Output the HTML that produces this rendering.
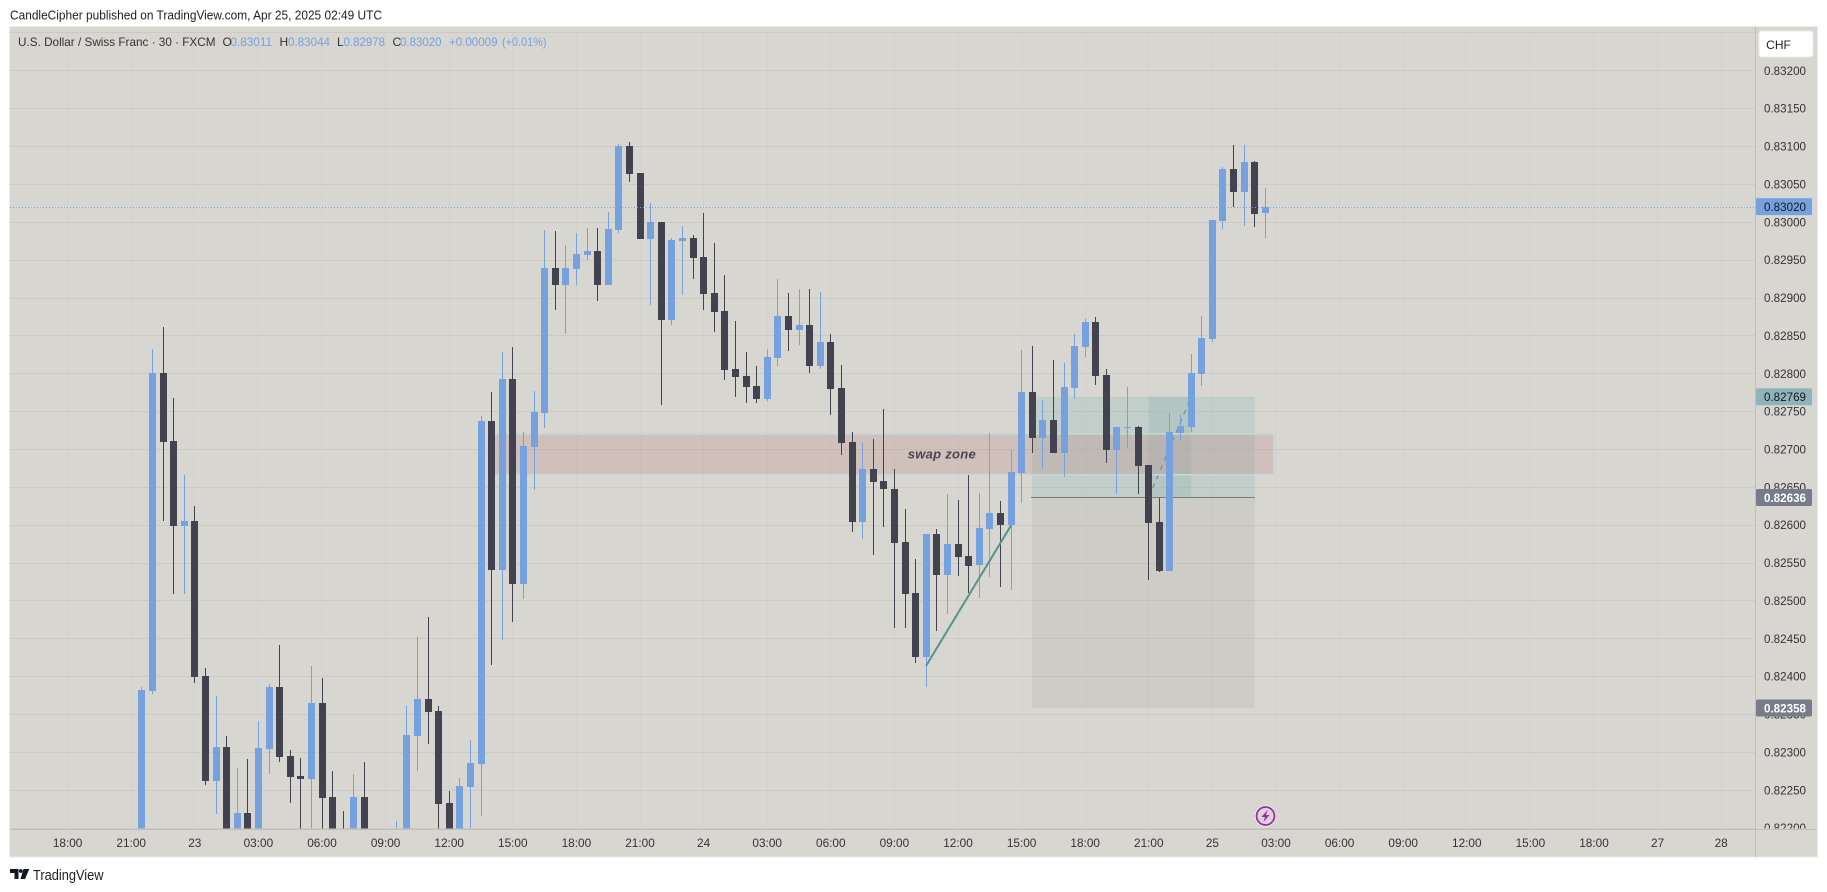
<!DOCTYPE html>
<html lang="en">
<head>
<meta charset="utf-8">
<title>USD/CHF 30m chart</title>
<style>
html,body{margin:0;padding:0;background:#fff;width:1827px;height:892px;overflow:hidden}
svg{display:block;position:absolute;left:0;top:0}
text{font-family:"Liberation Sans",sans-serif}
</style>
</head>
<body>
<svg id="chart" xmlns="http://www.w3.org/2000/svg" width="1827" height="892" viewBox="0 0 1827 892">
  <defs>
    <clipPath id="plot-clip"><rect x="10" y="27" width="1745.5" height="801.5"/></clipPath>
    <clipPath id="price-clip"><rect x="1756" y="27" width="61" height="801.5"/></clipPath>
  </defs>
  <rect x="0" y="0" width="1827" height="892" fill="#ffffff"/>
  <text x="10" y="19.5" font-size="12.5" fill="#222" textLength="372" lengthAdjust="spacingAndGlyphs">CandleCipher published on TradingView.com, Apr 25, 2025 02:49 UTC</text>
  <rect x="9.5" y="26.5" width="1808" height="830.5" fill="#d7d6d0" stroke="#ebebe9" stroke-width="1"/>
  <g id="grid" shape-rendering="crispEdges"></g>
  <g id="drawings" clip-path="url(#plot-clip)"></g>
  <g id="candles" clip-path="url(#plot-clip)" shape-rendering="crispEdges"></g>
  <g id="drawings-top" clip-path="url(#plot-clip)"></g>
  <line x1="10" x2="1817" y1="829.5" y2="829.5" stroke="#bfbeb8" stroke-width="1" shape-rendering="crispEdges"/>
  <line x1="1755.5" x2="1755.5" y1="27" y2="857" stroke="#bfbeb8" stroke-width="1" shape-rendering="crispEdges"/>
  <g id="price-axis" clip-path="url(#price-clip)"></g>
  <g id="time-axis"></g>
  <g id="price-tags"></g>

  <g font-size="12">
    <text x="18" y="46" fill="#333" textLength="197.5" lengthAdjust="spacingAndGlyphs">U.S. Dollar / Swiss Franc · 30 · FXCM</text>
    <text x="222.5" y="46" fill="#333">O</text>
    <text x="230.5" y="46" fill="#76a1df" textLength="41.5" lengthAdjust="spacingAndGlyphs">0.83011</text>
    <text x="279.5" y="46" fill="#333">H</text>
    <text x="288" y="46" fill="#76a1df" textLength="42" lengthAdjust="spacingAndGlyphs">0.83044</text>
    <text x="337" y="46" fill="#333">L</text>
    <text x="343.5" y="46" fill="#76a1df" textLength="41.5" lengthAdjust="spacingAndGlyphs">0.82978</text>
    <text x="392.5" y="46" fill="#333">C</text>
    <text x="400" y="46" fill="#76a1df" textLength="41.5" lengthAdjust="spacingAndGlyphs">0.83020</text>
    <text x="449" y="46" fill="#76a1df" textLength="48.5" lengthAdjust="spacingAndGlyphs">+0.00009</text>
    <text x="502" y="46" fill="#76a1df" textLength="44.5" lengthAdjust="spacingAndGlyphs">(+0.01%)</text>
  </g>

  <g>
    <rect x="1759" y="31" width="54" height="26" rx="3" fill="#ffffff" stroke="#ecebe8" stroke-width="1"/>
    <text x="1778.5" y="49" font-size="12" fill="#222" text-anchor="middle">CHF</text>
  </g>

  <g>
    <circle cx="1265.5" cy="816" r="10.5" fill="#ffffff"/>
    <circle cx="1265.5" cy="816" r="9" fill="#d7d6d0" stroke="#9c27b0" stroke-width="1.8"/>
    <polygon points="1267.5,810 1261.5,817 1265,817 1263.5,822 1269.5,815 1266,815" fill="#9c27b0"/>
  </g>

  <g>
    <g fill="#131722">
      <polygon points="10,869 18.5,869 18.5,879 14.5,879 14.5,873 10,873"/>
      <circle cx="20.8" cy="871" r="1.9"/>
      <polygon points="23.5,869 29.3,869 25,879 20.5,879"/>
    </g>
    <text x="33" y="880" font-size="14.5" fill="#222" textLength="70.5" lengthAdjust="spacingAndGlyphs">TradingView</text>
  </g>
</svg>
<script>
// Bar index of the first candle on the time axis (18:00 tick = bar 0, ticks every 6 bars).
const firstBar = 7;
const opens = [0.82120,0.82380,0.82800,0.82710,0.82598,0.82605,0.82400,0.82262,0.82307,0.82180,0.82220,0.82180,0.82304,0.82386,0.82295,0.82268,0.82264,0.82365,0.82241,0.82190,0.82185,0.82241,0.82180,0.82170,0.82160,0.82190,0.82321,0.82370,0.82354,0.82233,0.82180,0.82254,0.82284,0.82737,0.82540,0.82792,0.82522,0.82703,0.82748,0.82939,0.82916,0.82938,0.82956,0.82961,0.82916,0.82989,0.83100,0.83064,0.82977,0.83000,0.82870,0.82975,0.82979,0.82953,0.82906,0.82882,0.82806,0.82796,0.82783,0.82766,0.82820,0.82875,0.82857,0.82864,0.82810,0.82841,0.82780,0.82709,0.82604,0.82674,0.82658,0.82647,0.82577,0.82510,0.82425,0.82588,0.82534,0.82575,0.82559,0.82547,0.82594,0.82615,0.82600,0.82668,0.82775,0.82715,0.82738,0.82695,0.82780,0.82835,0.82868,0.82798,0.82699,0.82728,0.82729,0.82679,0.82604,0.82539,0.82721,0.82729,0.82799,0.82845,0.83001,0.83070,0.83039,0.83079,0.83011];
const highs = [0.82386,0.82832,0.82861,0.82767,0.82666,0.82625,0.82411,0.82374,0.82321,0.82279,0.82291,0.82341,0.82390,0.82441,0.82303,0.82292,0.82413,0.82398,0.82275,0.82222,0.82271,0.82287,0.82195,0.82190,0.82209,0.82361,0.82452,0.82478,0.82361,0.82249,0.82266,0.82316,0.82744,0.82775,0.82828,0.82835,0.82722,0.82777,0.82989,0.82988,0.82969,0.82985,0.82992,0.82992,0.83013,0.83103,0.83105,0.83064,0.83025,0.83000,0.82979,0.82994,0.82982,0.83012,0.82972,0.82930,0.82869,0.82828,0.82810,0.82832,0.82924,0.82906,0.82911,0.82911,0.82907,0.82852,0.82811,0.82722,0.82709,0.82713,0.82753,0.82673,0.82621,0.82555,0.82588,0.82594,0.82641,0.82633,0.82666,0.82642,0.82721,0.82631,0.82699,0.82831,0.82836,0.82765,0.82817,0.82814,0.82852,0.82872,0.82874,0.82806,0.82729,0.82782,0.82730,0.82679,0.82635,0.82748,0.82745,0.82825,0.82875,0.83002,0.83072,0.83101,0.83101,0.83080,0.83044];
const lows = [0.82100,0.82377,0.82605,0.82509,0.82509,0.82391,0.82256,0.82218,0.82160,0.82170,0.82170,0.82170,0.82271,0.82287,0.82233,0.82170,0.82170,0.82170,0.82180,0.82170,0.82170,0.82170,0.82160,0.82150,0.82140,0.82170,0.82275,0.82310,0.82170,0.82170,0.82170,0.82170,0.82215,0.82415,0.82448,0.82472,0.82502,0.82646,0.82728,0.82884,0.82852,0.82916,0.82949,0.82895,0.82916,0.82985,0.83053,0.82977,0.82890,0.82758,0.82864,0.82903,0.82924,0.82884,0.82854,0.82791,0.82769,0.82761,0.82761,0.82763,0.82810,0.82829,0.82837,0.82800,0.82806,0.82745,0.82692,0.82590,0.82581,0.82560,0.82597,0.82464,0.82464,0.82417,0.82386,0.82460,0.82482,0.82532,0.82510,0.82503,0.82531,0.82518,0.82514,0.82629,0.82695,0.82673,0.82695,0.82663,0.82766,0.82822,0.82785,0.82681,0.82641,0.82701,0.82641,0.82527,0.82538,0.82539,0.82712,0.82722,0.82783,0.82841,0.82990,0.83019,0.82994,0.82993,0.82978];
const closes = [0.82382,0.82800,0.82709,0.82598,0.82605,0.82399,0.82262,0.82307,0.82180,0.82220,0.82180,0.82305,0.82386,0.82293,0.82267,0.82264,0.82365,0.82239,0.82190,0.82180,0.82241,0.82180,0.82170,0.82160,0.82190,0.82322,0.82370,0.82353,0.82231,0.82180,0.82255,0.82286,0.82737,0.82540,0.82792,0.82522,0.82704,0.82749,0.82939,0.82916,0.82939,0.82957,0.82961,0.82916,0.82990,0.83100,0.83063,0.82977,0.83000,0.82870,0.82976,0.82979,0.82952,0.82905,0.82881,0.82804,0.82795,0.82782,0.82766,0.82822,0.82875,0.82857,0.82864,0.82810,0.82841,0.82779,0.82708,0.82604,0.82674,0.82657,0.82647,0.82576,0.82509,0.82425,0.82588,0.82534,0.82575,0.82558,0.82546,0.82596,0.82615,0.82600,0.82670,0.82775,0.82715,0.82738,0.82695,0.82782,0.82836,0.82868,0.82796,0.82699,0.82729,0.82729,0.82677,0.82602,0.82539,0.82722,0.82730,0.82800,0.82846,0.83002,0.83070,0.83039,0.83079,0.83010,0.83020];

const priceTicks = [0.8325,0.832,0.8315,0.831,0.8305,0.83,0.8295,0.829,0.8285,0.828,0.8275,0.827,0.8265,0.826,0.8255,0.825,0.8245,0.824,0.8235,0.823,0.8225,0.822];
const timeLabels = ['18:00','21:00','23','03:00','06:00','09:00','12:00','15:00','18:00','21:00','24','03:00','06:00','09:00','12:00','15:00','18:00','21:00','25','03:00','06:00','09:00','12:00','15:00','18:00','27','28'];

const lastPrice = 0.83020;
const targetPrice = 0.82769;
const entryPrice = 0.82636;
const stopPrice = 0.82358;
const swapZoneBars = [39.95, 113.8];
const swapZonePrices = [0.82720, 0.82666];
const positionBars = [91, 112];
const positionFilledBars = [102, 106];
const trendBars = [81, 89];
const trendPrices = [0.82414, 0.82599];

const NS = 'http://www.w3.org/2000/svg';
function xAt(bar){ return 67.6 + 10.6 * bar; }
function yAt(price){ return 70.3 + (0.832 - price) * 75740; }
function mk(parent, tag, attrs, txt){
  const el = document.createElementNS(NS, tag);
  for (const k in attrs) el.setAttribute(k, attrs[k]);
  if (txt !== undefined) el.textContent = txt;
  parent.appendChild(el);
  return el;
}

const grid = document.getElementById('grid');
const priceAxis = document.getElementById('price-axis');
const timeAxis = document.getElementById('time-axis');
const drawings = document.getElementById('drawings');
const drawingsTop = document.getElementById('drawings-top');
const candles = document.getElementById('candles');
const priceTags = document.getElementById('price-tags');

// grid + time axis
timeLabels.forEach(function(label, k){
  const x = Math.floor(xAt(k * 6)) + 0.5;
  const v = mk(grid, 'line', {x1:x, x2:x, y1:27, y2:829, stroke:'#d2d1cb', 'stroke-width':1});
  
  
  const t = mk(timeAxis, 'text', {x:xAt(k * 6), y:847, 'font-size':11.8, fill:'#333', 'text-anchor':'middle'}, label);
  
  
});
priceTicks.forEach(function(p){
  const y = Math.round(yAt(p)) + 0.5;
  const h = mk(grid, 'line', {x1:10, x2:1755, y1:y, y2:y, stroke:'#cbcac4', 'stroke-width':1});
  
  
  if (p < 0.8322) {
    const t = mk(priceAxis, 'text', {x:1764, y:yAt(p) + 4.5, 'font-size':11.8, fill:'#333', textLength:42, lengthAdjust:'spacingAndGlyphs'}, p.toFixed(5));
    
    
  }
});

// long-position tool
const posL = xAt(positionBars[0]), posR = xAt(positionBars[1]);
const yTarget = yAt(targetPrice), yEntry = yAt(entryPrice), yStop = yAt(stopPrice);
const profit = mk(drawings, 'rect', {x:posL, y:yTarget, width:posR - posL, height:yEntry - yTarget, fill:'rgba(131,182,180,.25)'});


const stop = mk(drawings, 'rect', {x:posL, y:yEntry, width:posR - posL, height:yStop - yEntry, fill:'rgba(165,164,158,.2)'});


const filled = mk(drawings, 'rect', {x:xAt(positionFilledBars[0]), y:yTarget, width:xAt(positionFilledBars[1]) - xAt(positionFilledBars[0]), height:yEntry - yTarget, fill:'rgba(120,170,170,.2)'});


const entry = mk(drawings, 'line', {x1:posL - 1, x2:posR, y1:Math.round(yEntry) + 0.5, y2:Math.round(yEntry) + 0.5, stroke:'#787d7c', 'stroke-width':1, 'shape-rendering':'crispEdges'});


const path = mk(drawings, 'line', {x1:xAt(positionFilledBars[0]), y1:yEntry, x2:xAt(positionFilledBars[1]), y2:yTarget, stroke:'#85898a', 'stroke-width':1.2, 'stroke-dasharray':'5 5'});



// swap zone
const swapL = xAt(swapZoneBars[0]), swapR = xAt(swapZoneBars[1]);
const swapT = yAt(swapZonePrices[0]), swapB = yAt(swapZonePrices[1]);
const swap = mk(drawings, 'rect', {x:swapL, y:swapT, width:swapR - swapL, height:swapB - swapT, fill:'rgba(187,126,128,.25)', stroke:'#c5dad8', 'stroke-width':1.5});


const swapLabel = mk(drawings, 'text', {x:941.7, y:yAt((swapZonePrices[0] + swapZonePrices[1]) / 2) + 4, 'font-size':13, 'font-weight':'bold', 'font-style':'italic', fill:'#46454c', 'text-anchor':'middle', textLength:68, lengthAdjust:'spacing'}, 'swap zone');



// candles
opens.forEach(function(o, n){
  const c = closes[n], hi = highs[n], lo = lows[n];
  const up = c >= o;
  const color = up ? '#76a1df' : '#42434f';
  const cx = Math.floor(xAt(firstBar + n));
  const g = mk(candles, 'g', {});
  
  
  const yH = Math.round(yAt(hi)), yL = Math.round(yAt(lo));
  const wick = mk(g, 'rect', {x:cx, y:yH, width:1, height:Math.max(1, yL - yH), fill:color});
  
  
  const yT = Math.round(yAt(Math.max(o, c))), yB = Math.round(yAt(Math.min(o, c)));
  const body = mk(g, 'rect', {x:cx - 3, y:yT, width:7, height:Math.max(1, yB - yT), fill:color});
  
  
});

// trend line + last price line
const trend = mk(drawingsTop, 'line', {x1:xAt(trendBars[0]), y1:yAt(trendPrices[0]), x2:xAt(trendBars[1]), y2:yAt(trendPrices[1]), stroke:'#56938c', 'stroke-width':2});


const yLast = Math.round(yAt(lastPrice)) + 0.5;
const lastLine = mk(drawingsTop, 'line', {x1:10, x2:1755, y1:yLast, y2:yLast, stroke:'#76a1df', 'stroke-width':1, 'stroke-dasharray':'1 2', 'shape-rendering':'crispEdges'});



// price tags
const tagPrices = [lastPrice, targetPrice, entryPrice, stopPrice];
const tagFills = ['#76a1df', '#8fb5b8', '#787b8a', '#787b8a'];
const tagTexts = ['#131722', '#131722', '#ffffff', '#ffffff'];
tagPrices.forEach(function(p, n){
  const y = yAt(p);
  const r = mk(priceTags, 'rect', {x:1756, y:y - 8.5, width:56, height:17, rx:1.5, fill:tagFills[n]});
  
  
  const t = mk(priceTags, 'text', {x:1764, y:y + 4.5, 'font-size':11.8, fill:tagTexts[n], 'font-weight':n > 1 ? 'bold' : 'normal', textLength:42, lengthAdjust:'spacingAndGlyphs'}, p.toFixed(5));
  
  
});
</script>
</body>
</html>
